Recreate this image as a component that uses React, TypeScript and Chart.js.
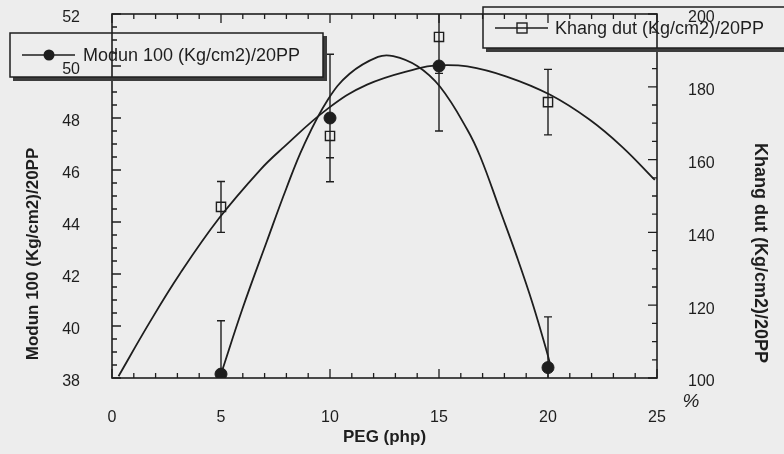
import React, { useEffect, useRef } from "react";
import { Chart, registerables } from "chart.js";

Chart.register(...registerables);

// ---- data ----
const pegLevels = [5, 10, 15, 20];
const modunValues = [38.15, 48.0, 50.0, 38.4];
const modunErrors = [2.05, 2.45, 2.5, 1.95];
const khangValues = [147, 166.5, 193.7, 175.8];
const khangErrors = [7, 6, 10, 9];

// fitted curves
const modunFitX = [5.0, 6.0, 7.1, 8.0, 8.8, 9.9, 10.9, 12.2, 12.9, 14.0, 15.05, 16.3, 16.9, 17.8, 18.6, 19.3, 19.95, 20.15];
const modunFitY = [38.15, 40.7, 43.25, 45.3, 46.95, 48.7, 49.7, 50.35, 50.38, 50.0, 49.2, 47.55, 46.5, 44.45, 42.6, 40.85, 39.0, 38.35];
const khangFitX = [0.3, 1.7, 3.1, 4.9, 6.8, 7.8, 9.9, 11.7, 14.0, 14.9, 16.3, 18.1, 20.1, 21.9, 23.4, 24.9];
const khangFitY = [100.5, 115.0, 128.5, 143.8, 157.2, 163.0, 174.0, 180.6, 185.0, 185.9, 185.6, 182.8, 177.8, 171.0, 163.5, 154.4];

const xTicks = [0, 5, 10, 15, 20, 25];
const leftTicks = [38, 40, 42, 44, 46, 48, 50, 52];
const rightTicks = [100, 120, 140, 160, 180, 200];

const modunLabel = "Modun 100 (Kg/cm2)/20PP";
const khangLabel = "Khang dut (Kg/cm2)/20PP";
const xTitle = "PEG (php)";
const leftTitle = "Modun 100 (Kg/cm2)/20PP";
const rightTitle = "Khang dut (Kg/cm2)/20PP";

const FONT = '"Liberation Sans", Arial, sans-serif';
const INK = "#1e1e1e";
const BG = "#ededed";

function legendBox(ctx: CanvasRenderingContext2D, l: number, t: number, r: number, b: number) {
  ctx.fillStyle = "#3c3c3c";
  ctx.fillRect(l + 3, b, r - l + 1, 4);
  ctx.fillRect(r, t + 3, 4, b - t + 1);
  ctx.strokeStyle = INK;
  ctx.lineWidth = 1.5;
  ctx.strokeRect(l, t, r - l, b - t);
}

const decorPlugin = {
  id: "decor",
  beforeDraw(chart: any) {
    const { ctx, width, height } = chart;
    ctx.save();
    ctx.fillStyle = BG;
    ctx.fillRect(0, 0, width, height);
    ctx.restore();
  },
  beforeDatasetsDraw(chart: any) {
    const { ctx, chartArea: a, scales } = chart;
    const sx = scales.x, yl = scales.y, yr = scales.y1;
    ctx.save();
    ctx.strokeStyle = INK;
    ctx.lineWidth = 1.6;
    ctx.strokeRect(a.left, a.top, a.right - a.left, a.bottom - a.top);
    ctx.lineWidth = 1.3;
    ctx.beginPath();
    for (let v = 0; v <= 25; v += 1) {
      const px = sx.getPixelForValue(v);
      const len = v % 5 === 0 ? 9 : 5;
      ctx.moveTo(px, a.bottom);
      ctx.lineTo(px, a.bottom - len);
      ctx.moveTo(px, a.top);
      ctx.lineTo(px, a.top + len);
    }
    for (let i = 0; i <= 28; i++) {
      const py = yl.getPixelForValue(38 + i * 0.5);
      const len = i % 4 === 0 ? 9 : 5;
      ctx.moveTo(a.left, py);
      ctx.lineTo(a.left + len, py);
    }
    for (let v = 100; v <= 200; v += 5) {
      const py = yr.getPixelForValue(v);
      const len = v % 20 === 0 ? 9 : 5;
      ctx.moveTo(a.right, py);
      ctx.lineTo(a.right - len, py);
    }
    ctx.stroke();

    // error bars
    ctx.beginPath();
    ctx.rect(a.left, a.top, a.right - a.left, a.bottom - a.top);
    ctx.clip();
    ctx.lineWidth = 1.4;
    ctx.beginPath();
    const bar = (px: number, p1: number, p2: number) => {
      ctx.moveTo(px, p1);
      ctx.lineTo(px, p2);
      ctx.moveTo(px - 4, p1);
      ctx.lineTo(px + 4, p1);
      ctx.moveTo(px - 4, p2);
      ctx.lineTo(px + 4, p2);
    };
    pegLevels.forEach((x, i) => {
      const px = sx.getPixelForValue(x);
      bar(px, yl.getPixelForValue(modunValues[i] + modunErrors[i]), yl.getPixelForValue(modunValues[i] - modunErrors[i]));
      bar(px, yr.getPixelForValue(khangValues[i] + khangErrors[i]), yr.getPixelForValue(khangValues[i] - khangErrors[i]));
    });
    ctx.stroke();
    ctx.restore();
  },
  afterDraw(chart: any) {
    const { ctx } = chart;
    ctx.save();
    // legend 1
    legendBox(ctx, 10, 33, 323, 77);
    ctx.strokeStyle = INK;
    ctx.lineWidth = 1.3;
    ctx.beginPath();
    ctx.moveTo(22, 55);
    ctx.lineTo(75, 55);
    ctx.stroke();
    ctx.fillStyle = INK;
    ctx.beginPath();
    ctx.arc(49, 55, 5.5, 0, Math.PI * 2);
    ctx.fill();
    ctx.font = `18px ${FONT}`;
    ctx.textAlign = "left";
    ctx.textBaseline = "middle";
    ctx.fillText(modunLabel, 83, 56);

    // legend 2
    legendBox(ctx, 483, 7, 790, 48);
    ctx.strokeStyle = INK;
    ctx.lineWidth = 1.3;
    ctx.beginPath();
    ctx.moveTo(495, 28);
    ctx.lineTo(548, 28);
    ctx.stroke();
    ctx.lineWidth = 1.4;
    ctx.strokeRect(517, 23, 10, 10);
    ctx.fillStyle = INK;
    ctx.fillText(khangLabel, 555, 29);

    // y axis titles
    ctx.textAlign = "center";
    ctx.save();
    ctx.font = `bold 17px ${FONT}`;
    ctx.translate(33, 254);
    ctx.rotate(-Math.PI / 2);
    ctx.fillText(leftTitle, 0, 0);
    ctx.restore();
    ctx.save();
    ctx.font = `bold 18px ${FONT}`;
    ctx.translate(760, 253);
    ctx.rotate(Math.PI / 2);
    ctx.fillText(rightTitle, 0, 0);
    ctx.restore();

    // percent sign under right axis
    ctx.font = `italic 19px ${FONT}`;
    ctx.fillText("%", 691, 402);
    ctx.restore();
  },
};

function zeroPad(s: any) {
  s.paddingTop = 0;
  s.paddingBottom = 0;
  s.paddingLeft = 0;
  s.paddingRight = 0;
}

export default function App() {
  const ref = useRef<HTMLCanvasElement>(null);
  useEffect(() => {
    const tickFont = { family: FONT, size: 16 };
    const chart = new Chart(ref.current as HTMLCanvasElement, {
      type: "line",
      data: {
        datasets: [
          {
            label: "khangFit",
            data: khangFitX.map((x, i) => ({ x, y: khangFitY[i] })),
            yAxisID: "y1",
            borderColor: INK,
            borderWidth: 1.8,
            pointRadius: 0,
            tension: 0.4,
            fill: false,
          },
          {
            label: "modunFit",
            data: modunFitX.map((x, i) => ({ x, y: modunFitY[i] })),
            yAxisID: "y",
            borderColor: INK,
            borderWidth: 1.8,
            pointRadius: 0,
            tension: 0.4,
            fill: false,
          },
          {
            label: modunLabel,
            data: pegLevels.map((x, i) => ({ x, y: modunValues[i] })),
            yAxisID: "y",
            showLine: false,
            pointStyle: "circle",
            pointRadius: 6,
            backgroundColor: INK,
            borderColor: INK,
          },
          {
            label: khangLabel,
            data: pegLevels.map((x, i) => ({ x, y: khangValues[i] })),
            yAxisID: "y1",
            showLine: false,
            pointStyle: "rect",
            pointRadius: 6.5,
            pointBorderWidth: 1.4,
            backgroundColor: "rgba(0,0,0,0)",
            borderColor: INK,
          },
        ],
      },
      options: {
        responsive: false,
        animation: false,
        layout: { padding: { top: 14, left: 0, right: 0, bottom: 0 } },
        plugins: { legend: { display: false }, tooltip: { enabled: false } },
        scales: {
          x: {
            type: "linear",
            min: 0,
            max: 25,
            afterBuildTicks: (s: any) => {
              s.ticks = xTicks.map((v) => ({ value: v }));
            },
            afterFit: (s: any) => {
              s.height = 76;
              zeroPad(s);
            },
            grid: { display: false },
            border: { display: false },
            ticks: { font: tickFont, color: INK, padding: 22, maxRotation: 0 },
            title: {
              display: true,
              text: xTitle,
              color: INK,
              font: { family: FONT, size: 17, weight: "bold" },
              padding: { top: 0, bottom: 6 },
            },
          },
          y: {
            type: "linear",
            position: "left",
            min: 38,
            max: 52,
            afterBuildTicks: (s: any) => {
              s.ticks = leftTicks.map((v) => ({ value: v }));
            },
            afterFit: (s: any) => {
              s.width = 112;
              zeroPad(s);
            },
            grid: { display: false },
            border: { display: false },
            ticks: { font: tickFont, color: INK, padding: 24, labelOffset: 4 },
          },
          y1: {
            type: "linear",
            position: "right",
            min: 100,
            max: 200,
            afterBuildTicks: (s: any) => {
              s.ticks = rightTicks.map((v) => ({ value: v }));
            },
            afterFit: (s: any) => {
              s.width = 127;
              zeroPad(s);
            },
            grid: { display: false },
            border: { display: false },
            ticks: { font: tickFont, color: INK, padding: 23, labelOffset: 4 },
          },
        },
      },
      plugins: [decorPlugin],
    } as any);
    return () => chart.destroy();
  }, []);
  return (
    <div style={{ position: "absolute", left: 0, top: 0, width: 784, height: 454 }}>
      <canvas ref={ref} width={784} height={454} style={{ display: "block" }} />
    </div>
  );
}
